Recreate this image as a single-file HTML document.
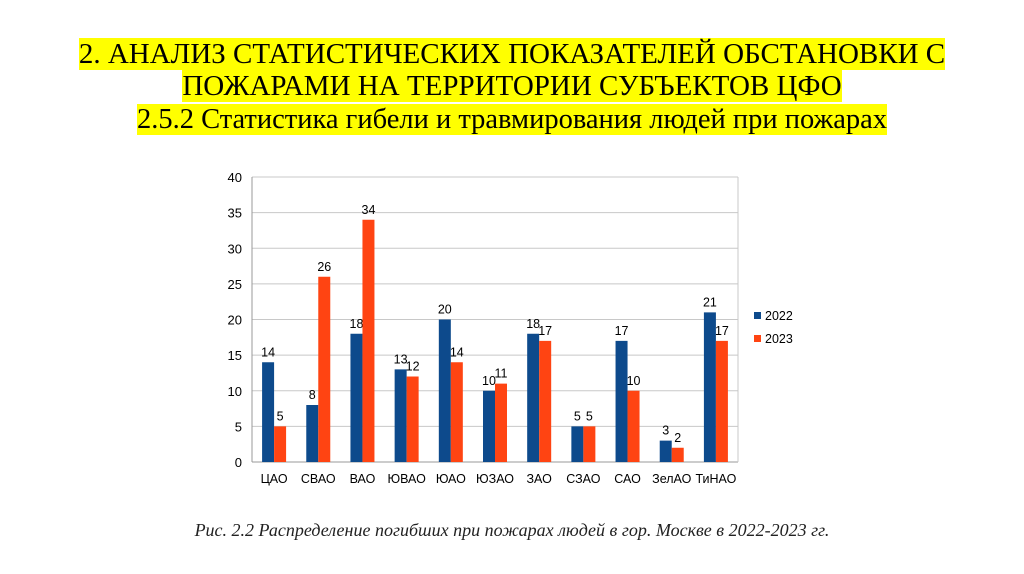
<!DOCTYPE html>
<html><head><meta charset="utf-8">
<style>
body{margin:0;width:1024px;height:574px;background:#fff;overflow:hidden;font-family:"Liberation Serif",serif;}
.t{position:absolute;left:0;width:1024px;text-align:center;font-size:29px;color:#000;}
.t span{background:#ffff00;}
</style></head><body>
<div class="t" style="top:38px;line-height:32px"><span>2. АНАЛИЗ СТАТИСТИЧЕСКИХ ПОКАЗАТЕЛЕЙ ОБСТАНОВКИ С<br>ПОЖАРАМИ НА ТЕРРИТОРИИ СУБЪЕКТОВ ЦФО </span></div>
<div class="t" style="top:104px;line-height:31px;font-size:28.5px"><span>2.5.2 Статистика гибели и травмирования людей при пожарах </span></div>
<svg id="c" width="1024" height="574" style="position:absolute;left:0;top:0"></svg>
<div style="position:absolute;top:520px;left:0;width:1024px;text-align:center;font-style:italic;font-size:18px;color:#222">Рис. 2.2 Распределение погибших при пожарах людей в гор. Москве в 2022-2023 гг.</div>
<script>
const categories=["ЦАО","СВАО","ВАО","ЮВАО","ЮАО","ЮЗАО","ЗАО","СЗАО","САО","ЗелАО","ТиНАО"];
const s2022=[14,8,18,13,20,10,18,5,17,3,21];
const s2023=[5,26,34,12,14,11,17,5,10,2,17];
const ticks=[0,5,10,15,20,25,30,35,40];
const L=252,R=738,T=177,B=462,maxV=40;
const svg=document.getElementById('c');const NS='http://www.w3.org/2000/svg';
const y=v=>B-(v/maxV)*(B-T);
const bw=(R-L)/categories.length;
const x=i=>L+bw*(i+0.5);
function mk(t,a,txt){const e=document.createElementNS(NS,t);for(const k in a)e.setAttribute(k,a[k]);if(txt!==undefined)e.textContent=txt;svg.appendChild(e);return e;}
ticks.forEach(v=>{
 const g=mk('line',{x1:L,x2:R,y1:y(v),y2:y(v),stroke:v===0?'#999':'#c8c8c8','stroke-width':1});
 
 
 const t=mk('text',{x:L-10,y:y(v)+5,'text-anchor':'end','font-family':'Liberation Sans,sans-serif','font-size':13,fill:'#000'},v);
 
 
});
const ax=mk('line',{x1:L,x2:L,y1:T,y2:B,stroke:'#999'});


const rb=mk('line',{x1:R,x2:R,y1:T,y2:B,stroke:'#c8c8c8'});


const w=12;
categories.forEach((c,i)=>{
 [[s2022,'#0d4a8c',-w],[s2023,'#ff4412',0]].forEach(([s,col,off])=>{
  const r=mk('rect',{x:x(i)+off,y:y(s[i]),width:w,height:B-y(s[i]),fill:col});
  
  
  const l=mk('text',{x:x(i)+off+w/2,y:y(s[i])-6,'text-anchor':'middle','font-family':'Liberation Sans,sans-serif','font-size':12.5,fill:'#000'},s[i]);
  
  
 });
 const t=mk('text',{x:x(i),y:B+21,'text-anchor':'middle','font-family':'Liberation Sans,sans-serif','font-size':12.5,fill:'#000'},c);
 
 
});
[['2022','#0d4a8c',316],['2023','#ff4412',339]].forEach(([n,col,yy])=>{
 const r=mk('rect',{x:754,y:yy-4,width:7,height:7,fill:col});
 
 
 const t=mk('text',{x:765,y:yy+4,'font-family':'Liberation Sans,sans-serif','font-size':12.5,fill:'#000'},n);
 
 
});
</script>
</body></html>
